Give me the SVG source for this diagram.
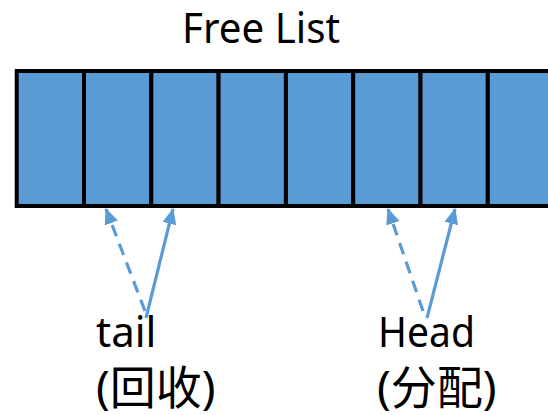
<svg xmlns="http://www.w3.org/2000/svg" width="548" height="415" viewBox="0 0 548 415">
<style>
.cell{fill:#5B9BD5;stroke:#000;stroke-width:4}
.lbl{font-family:"Noto Sans","Noto Sans CJK SC",sans-serif;fill:#000}
.conn{stroke:#5B9BD5;stroke-width:3.2;fill:none}
.dash{stroke-dasharray:12 8}
</style>
<defs>
<marker id="ah" markerUnits="userSpaceOnUse" markerWidth="16" markerHeight="16" viewBox="0 0 16 16" refX="15" refY="8" orient="auto">
<path d="M0,1 L16,8 L0,15 Z" fill="#5B9BD5"/>
</marker>
</defs>
<text class="lbl" x="261" y="43" font-size="41" text-anchor="middle" textLength="158" lengthAdjust="spacingAndGlyphs">Free List</text>
<g id="cells">
<g id="cell0"><rect class="cell" x="16.7" y="71" width="67.3" height="135"/></g>
<g id="cell1"><rect class="cell" x="84" y="71" width="67.3" height="135"/></g>
<g id="cell2"><rect class="cell" x="151.3" y="71" width="67.3" height="135"/></g>
<g id="cell3"><rect class="cell" x="218.6" y="71" width="67.3" height="135"/></g>
<g id="cell4"><rect class="cell" x="285.9" y="71" width="67.3" height="135"/></g>
<g id="cell5"><rect class="cell" x="353.2" y="71" width="67.3" height="135"/></g>
<g id="cell6"><rect class="cell" x="420.5" y="71" width="67.3" height="135"/></g>
<g id="cell7"><rect class="cell" x="487.8" y="71" width="67.3" height="135"/></g>
</g>
<g id="connectors">
<line class="conn dash" x1="145" y1="311" x2="106" y2="209" marker-end="url(#ah)"/>
<line class="conn" x1="146" y1="318" x2="173" y2="209" marker-end="url(#ah)"/>
<line class="conn dash" x1="423" y1="311" x2="388" y2="209" marker-end="url(#ah)"/>
<line class="conn" x1="427" y1="318" x2="455" y2="209" marker-end="url(#ah)"/>
</g>
<g id="tail">
<text class="lbl" x="96" y="347" font-size="42">tail</text>
<text class="lbl" x="96" y="404" font-size="46">(回收)</text>
</g>
<g id="head">
<text class="lbl" x="378" y="347" font-size="42" textLength="97" lengthAdjust="spacingAndGlyphs">Head</text>
<text class="lbl" x="377" y="404" font-size="46">(分配)</text>
</g>
</svg>
